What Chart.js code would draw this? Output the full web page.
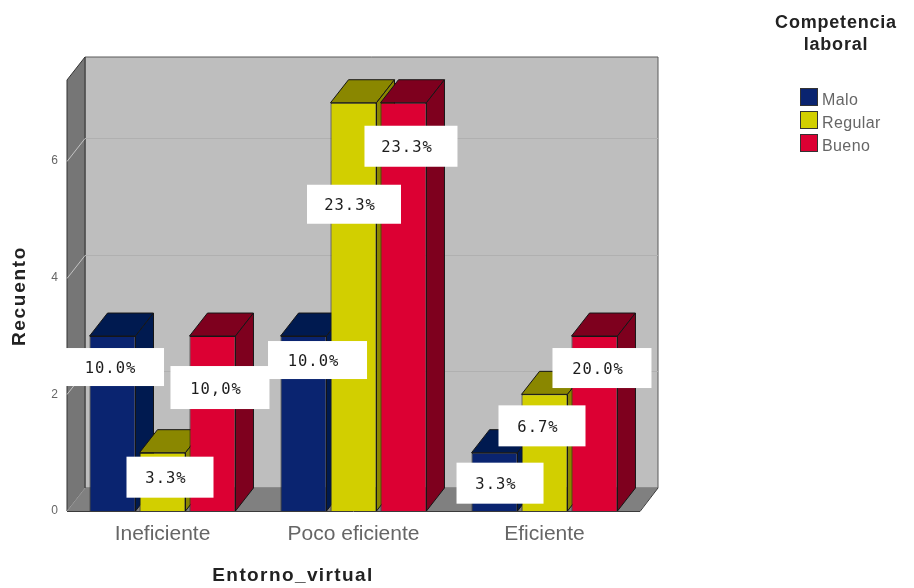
<!DOCTYPE html>
<html lang="es">
<head>
<meta charset="utf-8">
<title>Entorno_virtual y Competencia laboral</title>
<style>
html,body{margin:0;padding:0;background:#fff;}
canvas{display:block;}
</style>
<script src="https://cdn.jsdelivr.net/npm/chart.js@4"></script>
</head>
<body>
<canvas id="grafico" width="914" height="588"></canvas>
<script>
// Counts per competency level
const categories = ['Ineficiente', 'Poco eficiente', 'Eficiente'];
const malo = [3, 3, 1];
const regular = [1, 7, 2];
const bueno = [3, 7, 3];

// Percentage captions, as printed on each bar
const maloLabels = ['10.0%', '10.0%', '3.3%'];
const regularLabels = ['3.3%', '23.3%', '6.7%'];
const buenoLabels = ['10,0%', '23.3%', '20.0%'];

const seriesNames = ['Malo', 'Regular', 'Bueno'];
const yTicks = [0, 2, 4, 6];

// Face colours: front, then the shaded top and side
const fronts = ['#0a2470', '#d2cf00', '#dc0033'];
const shades = ['#001a50', '#8a8700', '#7e001e'];
const allLabels = [maloLabels, regularLabels, buenoLabels];

// Caption box relative to the top centre of its bar: dx, dy, width, height
const captionBoxes = [
  [[2, 31, 99, 38], [14, 24, 99, 38], [5.5, 30.5, 87, 41]],
  [[7.5, 24.5, 87, 41], [0.5, 101.5, 94, 39], [-2.5, 31.5, 87, 41]],
  [[7.5, 51.5, 99, 43], [7.5, 43.5, 93, 41], [7.5, 32, 99, 40]]
];

const DEPTH_X = 18, DEPTH_Y = 23;
const TITLE_SANS = '"Liberation Sans", Arial, sans-serif';

function polygon(ctx, pts, fill, stroke) {
  ctx.beginPath();
  pts.forEach((p, i) => i ? ctx.lineTo(p[0], p[1]) : ctx.moveTo(p[0], p[1]));
  ctx.closePath();
  ctx.fillStyle = fill;
  ctx.fill();
  if (stroke) { ctx.strokeStyle = stroke; ctx.lineWidth = 1; ctx.stroke(); }
}

// Back wall, left wall, floor and grid of the 3D box
const boxPlugin = {
  id: 'box3d',
  beforeDatasetsDraw(chart) {
    const { ctx, chartArea: a, scales: { y } } = chart;
    ctx.save();
    polygon(ctx, [[a.left + DEPTH_X, a.top - DEPTH_Y], [a.right + DEPTH_X, a.top - DEPTH_Y],
      [a.right + DEPTH_X, a.bottom - DEPTH_Y], [a.left + DEPTH_X, a.bottom - DEPTH_Y]], '#bebebe', '#5a5a5a');
    polygon(ctx, [[a.left, a.top], [a.left + DEPTH_X, a.top - DEPTH_Y],
      [a.left + DEPTH_X, a.bottom - DEPTH_Y], [a.left, a.bottom]], '#767676', '#333333');
    polygon(ctx, [[a.left, a.bottom], [a.left + DEPTH_X, a.bottom - DEPTH_Y],
      [a.right + DEPTH_X, a.bottom - DEPTH_Y], [a.right, a.bottom]], '#808080', null);
    ctx.lineWidth = 1;
    yTicks.forEach(v => {
      if (v === 0) return;
      const py = Math.round(y.getPixelForValue(v)) + 0.5;
      ctx.strokeStyle = '#b0b0b0';
      ctx.beginPath();
      ctx.moveTo(a.left + DEPTH_X, py - DEPTH_Y);
      ctx.lineTo(a.right + DEPTH_X, py - DEPTH_Y);
      ctx.stroke();
      ctx.strokeStyle = '#c4c4c4';
      ctx.beginPath();
      ctx.moveTo(a.left, py);
      ctx.lineTo(a.left + DEPTH_X, py - DEPTH_Y);
      ctx.stroke();
    });
    ctx.strokeStyle = '#9a9a9a';
    ctx.beginPath();
    ctx.moveTo(a.left, a.bottom);
    ctx.lineTo(a.left + DEPTH_X, a.bottom - DEPTH_Y);
    ctx.stroke();
    ctx.strokeStyle = '#3a3a3a';
    ctx.beginPath();
    ctx.moveTo(a.left, a.bottom + 0.5);
    ctx.lineTo(a.right, a.bottom + 0.5);
    ctx.lineTo(a.right + DEPTH_X, a.bottom - DEPTH_Y);
    ctx.stroke();
    ctx.restore();
  },
  // Bars are painted left to right below, so each side face sits behind its neighbour
  beforeDatasetDraw() { return false; },
  afterDatasetsDraw(chart) {
    const { ctx } = chart;
    ctx.save();
    chart.data.datasets.forEach((ds, d) => {
      chart.getDatasetMeta(d).data.forEach(bar => {
        const half = bar.width / 2;
        const l = bar.x - half, r = bar.x + half, t = bar.y, b = bar.base;
        polygon(ctx, [[l, t], [l + DEPTH_X, t - DEPTH_Y], [r + DEPTH_X, t - DEPTH_Y], [r, t]], shades[d], '#161616');
        polygon(ctx, [[r, t], [r + DEPTH_X, t - DEPTH_Y], [r + DEPTH_X, b - DEPTH_Y], [r, b]], shades[d], '#161616');
        bar.draw(ctx);
      });
    });
    // White caption boxes on top of every bar
    chart.data.datasets.forEach((ds, d) => {
      chart.getDatasetMeta(d).data.forEach((bar, i) => {
        const [dx, dy, w, h] = captionBoxes[d][i];
        const cx = bar.x + dx, cy = bar.y + dy;
        ctx.fillStyle = '#ffffff';
        ctx.fillRect(cx - w / 2, cy - h / 2, w, h);
        ctx.fillStyle = '#1c1c1c';
        ctx.font = '15.5px "DejaVu Sans Mono", monospace';
        ctx.letterSpacing = '1px';
        ctx.textAlign = 'center';
        ctx.textBaseline = 'middle';
        ctx.fillText(allLabels[d][i], cx - 4, cy + 2);
        ctx.letterSpacing = '0px';
      });
    });
    ctx.restore();
  },
  // Axis titles and the legend block
  afterDraw(chart) {
    const { ctx } = chart;
    ctx.save();
    ctx.textAlign = 'center';
    ctx.textBaseline = 'middle';
    ctx.fillStyle = '#222222';
    ctx.font = 'bold 19px ' + TITLE_SANS;
    ctx.letterSpacing = '1.4px';
    ctx.fillText('Entorno_virtual', 293, 576);
    ctx.save();
    ctx.translate(20, 296);
    ctx.rotate(-Math.PI / 2);
    ctx.letterSpacing = '1.7px';
    ctx.fillText('Recuento', 0, 0);
    ctx.restore();
    ctx.font = 'bold 18px ' + TITLE_SANS;
    ctx.letterSpacing = '0.8px';
    ctx.fillText('Competencia', 836, 23);
    ctx.fillText('laboral', 836, 45);
    ctx.textAlign = 'left';
    ctx.font = '16px ' + TITLE_SANS;
    ctx.letterSpacing = '0.4px';
    seriesNames.forEach((name, k) => {
      const top = 89 + k * 23;
      ctx.fillStyle = fronts[k];
      ctx.strokeStyle = '#333333';
      ctx.lineWidth = 1;
      ctx.fillRect(801, top, 16, 16);
      ctx.strokeRect(800.5, top - 0.5, 17, 17);
      ctx.fillStyle = '#666666';
      ctx.fillText(name, 822, top + 11.5);
    });
    ctx.restore();
  }
};

new Chart(document.getElementById('grafico'), {
  type: 'bar',
  plugins: [boxPlugin],
  data: {
    labels: categories,
    datasets: [malo, regular, bueno].map((values, k) => ({
      label: seriesNames[k],
      data: values,
      backgroundColor: fronts[k],
      borderColor: '#161616',
      borderWidth: 1,
      categoryPercentage: 0.785,
      barPercentage: 0.92
    }))
  },
  options: {
    responsive: false,
    animation: false,
    layout: { padding: { top: 80, right: 274, left: 0, bottom: 0 } },
    plugins: { legend: { display: false }, tooltip: { enabled: false } },
    scales: {
      x: {
        grid: { display: false },
        border: { display: false },
        afterFit(scale) { scale.height = 77; },
        ticks: { color: '#666666', font: { family: TITLE_SANS, size: 21 }, padding: 3, maxRotation: 0 }
      },
      y: {
        min: 0,
        max: 7.39,
        afterBuildTicks(scale) { scale.ticks = yTicks.map(value => ({ value })); },
        afterFit(scale) { scale.width = 67; },
        grid: { display: false },
        border: { display: false },
        ticks: { color: '#666666', font: { family: TITLE_SANS, size: 12 }, padding: 1 }
      }
    }
  }
});
</script>
</body>
</html>
